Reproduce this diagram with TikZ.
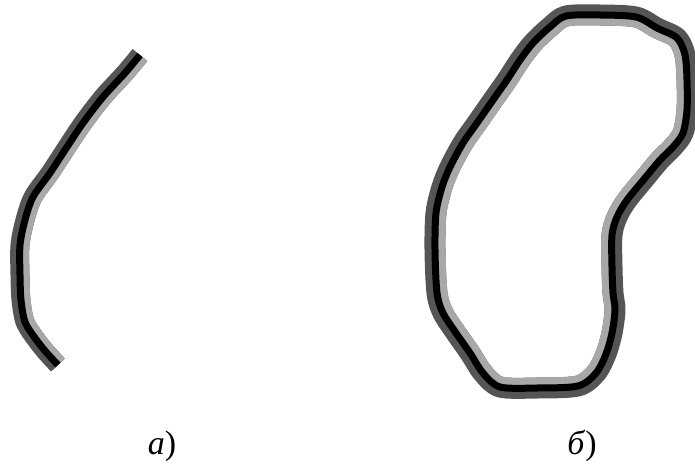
\documentclass[tikz,border=0pt]{standalone}
\usepackage{fontspec}
\setmainfont{Liberation Serif}
\usepackage{tikz}
\definecolor{bandDark}{HTML}{555555}
\definecolor{bandLight}{HTML}{A8A8A8}
\tikzset{
  darkband/.style={draw=bandDark,line width=21pt,line join=round},
  lightband/.style={draw=bandLight,line width=21pt,line join=round},
  coreline/.style={draw=black,line width=7pt,line join=round},
  caption/.style={anchor=base,font=\fontsize{34}{40}\selectfont}
}
\def\arcpts{(140,55) (125,73) (103,97) (83,123) (67,147) (50,173) (33,197) (25,220) (20,245) (20,275) (21,300) (25,322) (35,338) (46,352) (58,365)}
\def\blobpts{(566,16) (600,15) (636,17) (657,28) (677,38) (685,55) (687,80) (687,110) (683,133) (673,147) (660,160) (645,178) (627,200) (617,217) (612,235) (612,267) (613,293) (615,310) (612,333) (606,354) (596,373) (578,386) (537,388) (500,387) (483,373) (470,353) (456,333) (443,313) (437,293) (435,250) (436,213) (442,187) (450,167) (463,143) (477,123) (493,100) (507,80) (520,60) (533,43) (550,27)}
\begin{document}
\begin{tikzpicture}[x=1pt,y=-1pt]
  \useasboundingbox (0,0) rectangle (695,465);
  % a) open arc
  \draw[darkband,line width=19pt] plot[smooth] coordinates {\arcpts};
  \begin{scope}
    \clip plot[smooth] coordinates {\arcpts} -- (300,380) -- (300,40) -- (150,40) -- cycle;
    \draw[lightband,line width=19pt] plot[smooth] coordinates {\arcpts};
  \end{scope}
  \draw[coreline] plot[smooth] coordinates {\arcpts};
  % b) closed contour
  \draw[darkband] plot[smooth cycle] coordinates {\blobpts};
  \begin{scope}
    \clip plot[smooth cycle] coordinates {\blobpts};
    \draw[lightband] plot[smooth cycle] coordinates {\blobpts};
  \end{scope}
  \draw[coreline] plot[smooth cycle] coordinates {\blobpts};
  % captions
  \node[caption] (capA) at (162,454) {\textit{а})};
  \node[caption] (capB) at (582,454) {\textit{б})};
\end{tikzpicture}
\end{document}
